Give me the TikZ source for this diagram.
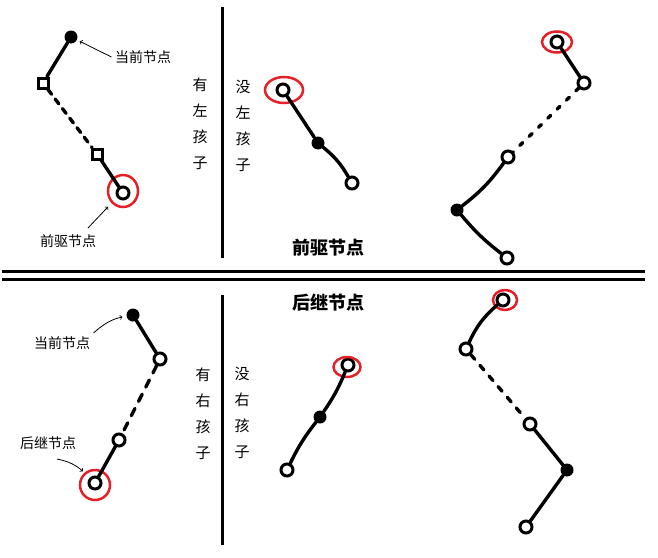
\documentclass[tikz,border=0pt]{standalone}
\usepackage{fontspec}
\setmainfont{Noto Sans CJK SC}
\usetikzlibrary{arrows,shapes.geometric}

\definecolor{ringred}{RGB}{228,32,40}

\tikzset{
  link/.style={line width=3.4pt, line cap=round},
  hole/.style={circle, draw, line width=3pt, inner sep=0pt, minimum size=12pt, fill=white},
  box/.style={rectangle, draw, line width=3pt, inner sep=0pt, minimum size=10pt, fill=white},
  cur/.style={circle, fill, inner sep=0pt, minimum size=13pt},
  ring/.style={ellipse, draw=ringred, line width=2.5pt, inner sep=0pt},
  note/.style={font=\fontsize{14}{16}\selectfont},
  head/.style={font=\fontsize{18}{20}\selectfont\bfseries},
  side/.style={font=\fontsize{15}{26}\selectfont, align=center},
  tip/.style={->, >=to, line width=0.8pt}
}

\begin{document}
\begin{tikzpicture}[x=1pt,y=-1pt]

\useasboundingbox (0,0) rectangle (658,557);

% frame
\draw [line width=3pt] (222,7) -- (222,258);
\draw [line width=3pt] (222,295) -- (222,545);
\draw [line width=3pt] (2,271.5) -- (645,271.5);
\draw [line width=3pt] (2,279.5) -- (645,279.5);

\node [side] (hasl) at (200,124) {有\\左\\孩\\子};
\node [side] (nol)  at (243,126) {没\\左\\孩\\子};
\node [side] (hasr) at (203,414) {有\\右\\孩\\子};
\node [side] (nor)  at (242,413) {没\\右\\孩\\子};

\node [head] (predh) at (328,248) {前驱节点};
\node [head] (succh) at (328,303) {后继节点};

% top left
\node [cur]  (c1)  at (71,37)  {};
\node [box]  (s1a) at (43,83)  {};
\node [box]  (s1b) at (97,154) {};
\node [hole] (p1)  at (123,193) {};
\node [ring, minimum width=30pt, minimum height=32pt] (r1) at (123,191) {};
\draw [link] (c1) -- (s1a);
\draw [link, dash pattern=on 6pt off 6pt] (s1a) -- (s1b);
\draw [link] (s1b) -- (p1);

\node [note] (lc1) at (143,57)  {当前节点};
\node [note] (lp1) at (68,241)  {前驱节点};
\coordinate (lp1t) at (88,228);
\draw [tip, shorten >=3pt] (lc1.west) -- (c1);
\draw [tip, shorten >=5pt] (lp1t) -- (r1);

% top middle
\node [hole] (p2) at (283,90)  {};
\node [ring, minimum width=38pt, minimum height=26pt] (r2) at (284,90) {};
\node [cur]  (c2) at (318,143) {};
\node [hole] (o2) at (352,183) {};
\draw [link] (p2) -- (c2);
\draw [link] (c2) to [bend left=10] (o2);

% top right
\node [hole] (p3)  at (557,42)  {};
\node [ring, minimum width=30pt, minimum height=21pt] (r3) at (557,42) {};
\node [hole] (o3a) at (584,83)  {};
\node [hole] (o3b) at (508,157) {};
\node [cur]  (c3)  at (457,210) {};
\node [hole] (o3c) at (507,258) {};
\draw [link] (p3) -- (o3a);
\draw [link, dash pattern=on 4pt off 9pt] (o3a) -- (o3b);
\draw [link] (o3b) to [bend left=8] (c3);
\draw [link] (c3) to [bend right=6] (o3c);

% bottom left
\node [cur]  (c4)  at (133,315) {};
\node [hole] (o4a) at (160,359) {};
\node [hole] (o4b) at (119,440) {};
\node [hole] (s4)  at (95,483)  {};
\node [ring, minimum width=30pt, minimum height=30pt] (r4) at (95,485) {};
\draw [link] (c4) -- (o4a);
\draw [link, dash pattern=on 8pt off 8pt] (o4a) -- (o4b);
\draw [link] (o4b) -- (s4);

\node [note] (lc4) at (62,343) {当前节点};
\node [note] (ls4) at (48,443) {后继节点};
\coordinate (ls4t) at (57,459);
\draw [tip, shorten >=4pt] (lc4.north east) to [bend left=15] (c4);
\draw [tip, shorten >=2pt] (ls4t) to [bend left=15] (r4);

% bottom middle
\node [hole] (s5) at (348,365) {};
\node [ring, minimum width=27pt, minimum height=20pt] (r5) at (347,367) {};
\node [cur]  (c5) at (320,417) {};
\node [hole] (o5) at (287,470) {};
\draw [link] (s5) to [bend left=6] (c5);
\draw [link] (c5) to [bend right=6] (o5);

% bottom right
\node [hole] (s6)  at (503,300) {};
\node [ring, minimum width=24pt, minimum height=20pt] (r6) at (505,300) {};
\node [hole] (o6a) at (466,349) {};
\node [hole] (o6b) at (530,424) {};
\node [cur]  (c6)  at (567,470) {};
\node [hole] (o6c) at (526,527) {};
\draw [link] (s6) to [bend right=12] (o6a);
\draw [link, dash pattern=on 6pt off 8pt] (o6a) -- (o6b);
\draw [link] (o6b) -- (c6);
\draw [link] (c6) -- (o6c);

\end{tikzpicture}
\end{document}
